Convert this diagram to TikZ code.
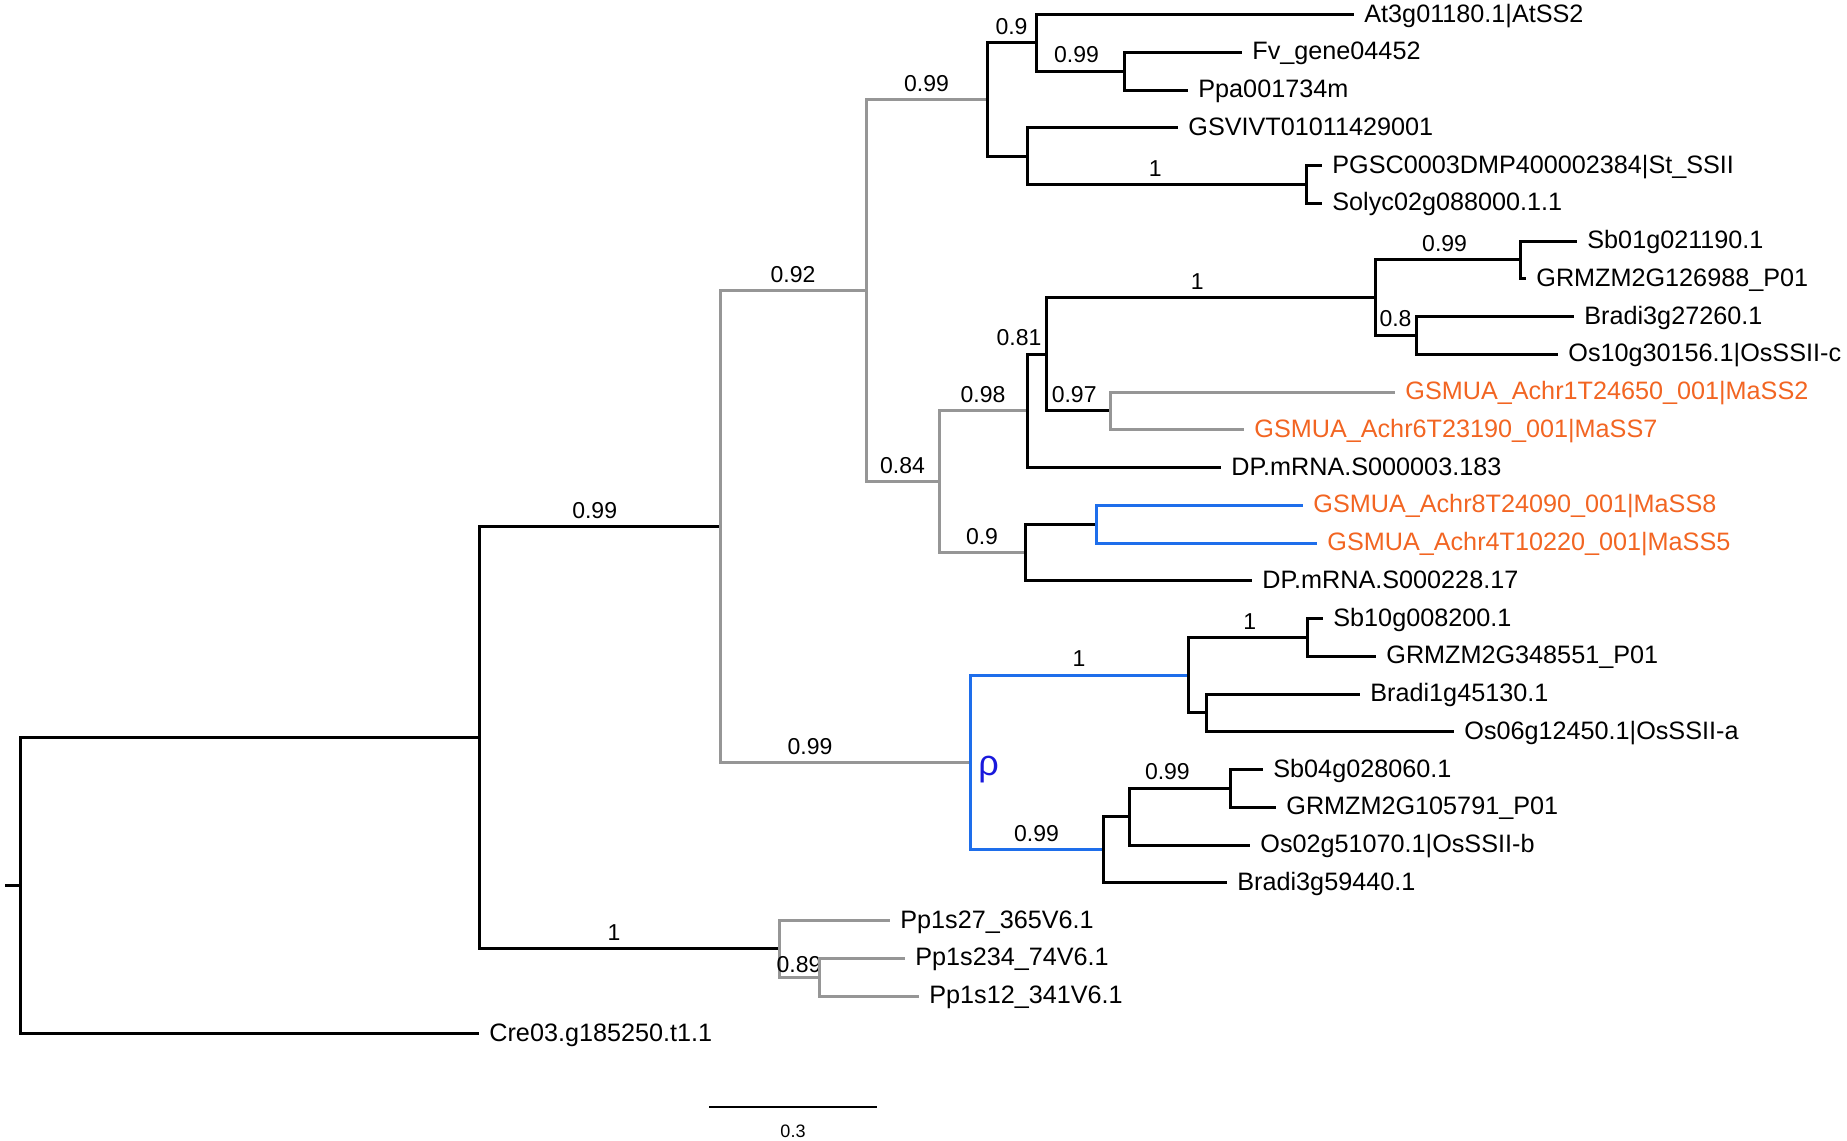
\documentclass[tikz,border=0pt]{standalone}
\usepackage{fontspec}
\setmainfont{Liberation Sans}
\usepackage{tikz}
\usetikzlibrary{positioning}
\definecolor{brgrey}{RGB}{150,150,150}
\definecolor{brblue}{RGB}{30,110,235}
\definecolor{maorange}{RGB}{242,101,34}
\definecolor{rhoblue}{RGB}{25,25,220}
\tikzstyle{br} = [line width=1.5pt,black]
\tikzstyle{gbr} = [line width=1.5pt,color=brgrey]
\tikzstyle{bbr} = [line width=1.5pt,color=brblue]
\tikzstyle{taxon} = [anchor=west,inner xsep=5pt,inner ysep=0pt,text height=0.95em,text depth=0.2em,font=\fontsize{12.6pt}{15pt}\selectfont]
\tikzstyle{mtaxon} = [taxon,text=maorange]
\tikzstyle{supp} = [above,black,font=\fontsize{11.5pt}{13pt}\selectfont]

\begin{document}
\begin{tikzpicture}[x=0.5pt,y=-18.875pt]
\useasboundingbox (0,-0.384) rectangle (1847,29.815);

% inner nodes (x in px, y in rows)
\coordinate (rs) at (5,23.078);
\coordinate (R) at (20,23.078);
\coordinate (A) at (479,19.156);
\coordinate (B) at (720,13.563);
\coordinate (C) at (866,7.313);
\coordinate (D) at (987,2.25);
\coordinate (F) at (1036,0.75);
\coordinate (G) at (1124,1.5);
\coordinate (H) at (1027,3.75);
\coordinate (I) at (1306,4.5);
\coordinate (E) at (939,12.375);
\coordinate (J) at (1027,10.5);
\coordinate (K) at (1046,9);
\coordinate (L) at (1375,7.5);
\coordinate (N) at (1520,6.5);
\coordinate (O) at (1416,8.5);
\coordinate (Q) at (1110,10.5);
\coordinate (S) at (1025,14.25);
\coordinate (T) at (1096,13.5);
\coordinate (P) at (970,19.813);
\coordinate (U) at (1188,17.5);
\coordinate (V) at (1307,16.5);
\coordinate (W) at (1206,18.5);
\coordinate (X) at (1103,22.125);
\coordinate (Y) at (1129,21.25);
\coordinate (Z) at (1230,20.5);
\coordinate (M) at (779,24.75);
\coordinate (M2) at (819,25.5);

% taxa
\node[taxon] (at3g) at (1354,0) {At3g01180.1|AtSS2};
\node[taxon] (fv) at (1242,1) {Fv\_gene04452};
\node[taxon] (ppa) at (1188,2) {Ppa001734m};
\node[taxon] (gsv) at (1178,3) {GSVIVT01011429001};
\node[taxon] (pgsc) at (1322,4) {PGSC0003DMP400002384|St\_SSII};
\node[taxon] (solyc) at (1322,5) {Solyc02g088000.1.1};
\node[taxon] (sb01) at (1577,6) {Sb01g021190.1};
\node[taxon] (grmA) at (1526,7) {GRMZM2G126988\_P01};
\node[taxon] (bradiA) at (1574,8) {Bradi3g27260.1};
\node[taxon] (os10) at (1558,9) {Os10g30156.1|OsSSII-c};
\node[mtaxon] (mass2) at (1395,10) {GSMUA\_Achr1T24650\_001|MaSS2};
\node[mtaxon] (mass7) at (1244,11) {GSMUA\_Achr6T23190\_001|MaSS7};
\node[taxon] (dpA) at (1221,12) {DP.mRNA.S000003.183};
\node[mtaxon] (mass8) at (1303,13) {GSMUA\_Achr8T24090\_001|MaSS8};
\node[mtaxon] (mass5) at (1317,14) {GSMUA\_Achr4T10220\_001|MaSS5};
\node[taxon] (dpB) at (1252,15) {DP.mRNA.S000228.17};
\node[taxon] (sb10) at (1323,16) {Sb10g008200.1};
\node[taxon] (grmB) at (1376,17) {GRMZM2G348551\_P01};
\node[taxon] (bradiB) at (1360,18) {Bradi1g45130.1};
\node[taxon] (os06) at (1454,19) {Os06g12450.1|OsSSII-a};
\node[taxon] (sb04) at (1263,20) {Sb04g028060.1};
\node[taxon] (grmC) at (1276,21) {GRMZM2G105791\_P01};
\node[taxon] (os02) at (1250,22) {Os02g51070.1|OsSSII-b};
\node[taxon] (bradiC) at (1227,23) {Bradi3g59440.1};
\node[taxon] (pp27) at (890,24) {Pp1s27\_365V6.1};
\node[taxon] (pp234) at (905,25) {Pp1s234\_74V6.1};
\node[taxon] (pp12) at (919,26) {Pp1s12\_341V6.1};
\node[taxon] (cre) at (479,27) {Cre03.g185250.t1.1};

% branches
\draw[br] (rs) -- (R);
\draw[br] (R) |- (A);
\draw[br] (R) |- (cre.west);
\draw[br] (A) |- (B) node[supp,pos=.74] (sAB) {0.99};
\draw[br] (A) |- (M) node[supp,pos=.725] (sAM) {1};
\draw[gbr] (B) |- (C) node[supp,pos=.75] (sBC) {0.92};
\draw[gbr] (B) |- (P) node[supp,pos=.68] (sBP) {0.99};
\draw[gbr] (C) |- (D) node[supp,pos=.75] (sCD) {0.99};
\draw[gbr] (C) |- (E) node[supp,pos=.75] (sCE) {0.84};
\draw[br] (D) |- (F) node[supp,pos=.75] (sDF) {0.9};
\draw[br] (D) |- (H);
\draw[br] (F) |- (at3g.west);
\draw[br] (F) |- (G) node[supp,pos=.73] (sFG) {0.99};
\draw[br] (G) |- (fv.west);
\draw[br] (G) |- (ppa.west);
\draw[br] (H) |- (gsv.west);
\draw[br] (H) |- (I) node[supp,pos=.73] (sHI) {1};
\draw[br] (I) |- (pgsc.west);
\draw[br] (I) |- (solyc.west);
\draw[gbr] (E) |- (J) node[supp,pos=.75] (sEJ) {0.98};
\draw[gbr] (E) |- (S) node[supp,pos=.75] (sES) {0.9};
\draw[br] (J) |- (K) node[supp,pos=.5,xshift=-4pt] (sJK) {0.81};
\draw[br] (J) |- (dpA.west);
\draw[br] (K) |- (L) node[supp,pos=.73] (sKL) {1};
\draw[br] (K) |- (Q) node[supp,pos=.72] (sKQ) {0.97};
\draw[br] (L) |- (N) node[supp,pos=.74] (sLN) {0.99};
\draw[br] (L) |- (O) node[supp,pos=.75] (sLO) {0.8};
\draw[br] (N) |- (sb01.west);
\draw[br] (N) |- (grmA.west);
\draw[br] (O) |- (bradiA.west);
\draw[br] (O) |- (os10.west);
\draw[gbr] (Q) |- (mass2.west);
\draw[gbr] (Q) |- (mass7.west);
\draw[br] (S) |- (T);
\draw[br] (S) |- (dpB.west);
\draw[bbr] (T) |- (mass8.west);
\draw[bbr] (T) |- (mass5.west);
\draw[bbr] (P) |- (U) node[supp,pos=.75] (sPU) {1};
\draw[bbr] (P) |- (X) node[supp,pos=.75] (sPX) {0.99};
\draw[br] (U) |- (V) node[supp,pos=.76] (sUV) {1};
\draw[br] (U) |- (W);
\draw[br] (V) |- (sb10.west);
\draw[br] (V) |- (grmB.west);
\draw[br] (W) |- (bradiB.west);
\draw[br] (W) |- (os06.west);
\draw[br] (X) |- (Y);
\draw[br] (X) |- (bradiC.west);
\draw[br] (Y) |- (Z) node[supp,pos=.69] (sYZ) {0.99};
\draw[br] (Y) |- (os02.west);
\draw[br] (Z) |- (sb04.west);
\draw[br] (Z) |- (grmC.west);
\draw[gbr] (M) |- (pp27.west);
\draw[gbr] (M) |- (M2) node[supp,pos=.75,yshift=-2pt] (sMM) {0.89};
\draw[gbr] (M2) |- (pp234.west);
\draw[gbr] (M2) |- (pp12.west);

% clade mark
\node[anchor=west,inner xsep=4pt,yshift=-3.7pt,text=rhoblue,font=\fontsize{18pt}{20pt}\selectfont] (rho) at (P) {ρ};

% scale bar
\coordinate (sb1) at (709,28.94);
\coordinate (sb2) at (877,28.94);
\draw[line width=1pt] (sb1) -- (sb2) node[midway,below=5pt,font=\fontsize{9pt}{11pt}\selectfont] (scl) {0.3};
\end{tikzpicture}
\end{document}
